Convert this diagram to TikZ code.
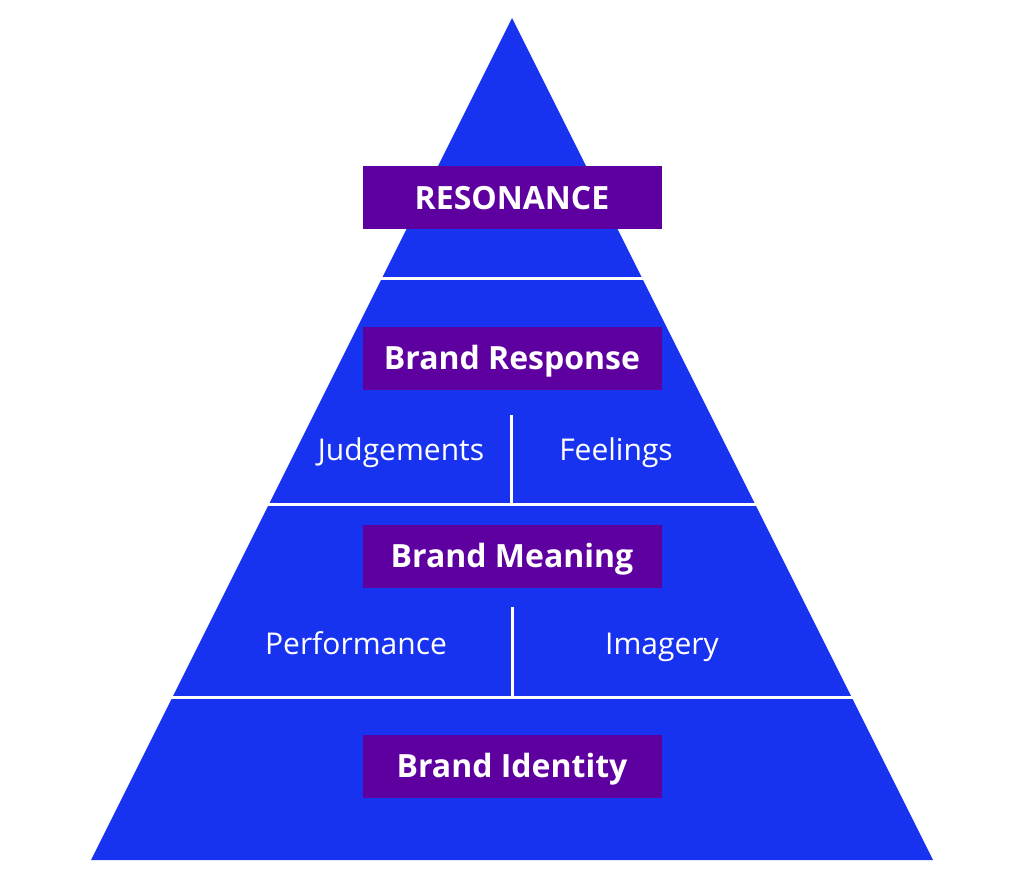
\documentclass[tikz,border=0pt]{standalone}
\usepackage{fontspec}
\setmainfont{Open Sans}
\usetikzlibrary{positioning}
\definecolor{pyrblue}{RGB}{24,51,240}
\definecolor{boxpurple}{RGB}{94,0,160}

\begin{document}
\begin{tikzpicture}[x=1pt,y=-1pt,
    level/.style={rectangle, fill=boxpurple, text=white,
      minimum width=299pt, minimum height=63pt, inner sep=0pt,
      text height=23pt, text depth=0pt,
      font=\fontsize{32}{38}\selectfont\bfseries},
    aspect/.style={text=white, inner sep=0pt, anchor=base,
      font=\fontsize{30}{36}\selectfont},
    divider/.style={draw=white, line width=3pt}
    ]
    \useasboundingbox (0,0) rectangle (1024,879);

    \coordinate (apex) at (512,18);
    \coordinate (baseL) at (91,860);
    \coordinate (baseR) at (933,860);
    \fill[pyrblue] (apex) -- (baseR) -- (baseL) -- cycle;

    % horizontal dividers between the levels
    \coordinate (d1L) at (370,278);
    \coordinate (d1R) at (654,278);
    \coordinate (d2L) at (260,504);
    \coordinate (d2R) at (764,504);
    \coordinate (d3L) at (162,697);
    \coordinate (d3R) at (862,697);
    \draw[divider] (d1L) -- (d1R);
    \draw[divider] (d2L) -- (d2R);
    \draw[divider] (d3L) -- (d3R);

    % vertical splits
    \coordinate (s1top) at (511,415);
    \coordinate (s1bot) at (511,504);
    \coordinate (s2top) at (512,607);
    \coordinate (s2bot) at (512,697);
    \draw[divider] (s1top) -- (s1bot);
    \draw[divider] (s2top) -- (s2bot);

    \node[level] (resonance) at (512,197.5) {RESONANCE};
    \node[level] (response) at (512,358) {Brand Response};
    \node[level] (meaning) at (512,556) {Brand Meaning};
    \node[level] (identity) at (512,766) {Brand Identity};

    \node[aspect] (judge) at (401,460) {Judgements};
    \node[aspect] (feel) at (616,460) {Feelings};
    \node[aspect] (perf) at (356,654) {Performance};
    \node[aspect] (imag) at (662,654) {Imagery};
\end{tikzpicture}
\end{document}
